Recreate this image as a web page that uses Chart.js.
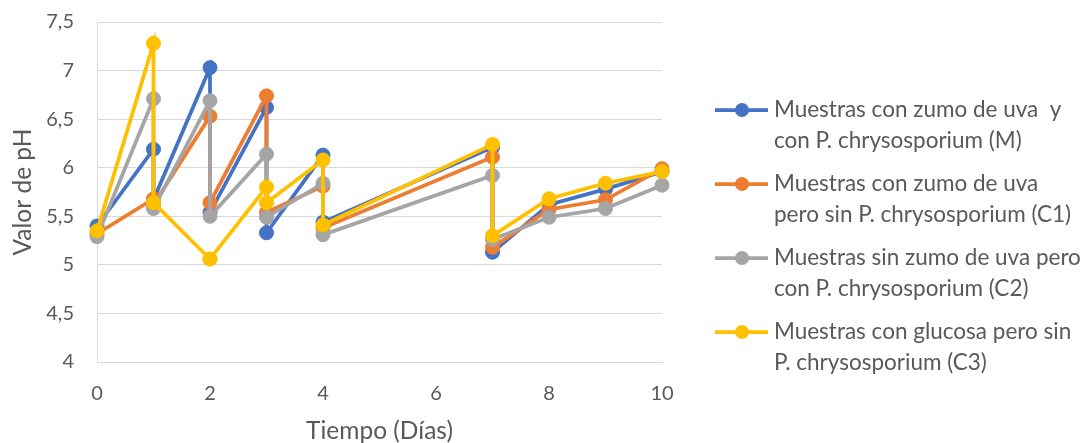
<!DOCTYPE html>
<html>
<head>
<meta charset="utf-8">
<script src="https://cdn.jsdelivr.net/npm/chart.js@4.4.1/dist/chart.umd.min.js"></script>
<style>
  html, body { margin: 0; padding: 0; background: #ffffff; }
  #wrap { width: 1081px; height: 443px; position: relative; }
</style>
</head>
<body>
<div id="wrap"><canvas id="ph" width="1081" height="443"></canvas></div>
<script>
// Sampling days (each adjustment day has a reading before and after correction)
const days = [0, 1, 1, 2, 2, 3, 3, 4, 4, 7, 7, 8, 9, 10];

// pH readings per sample group
const phM  = [5.40, 6.19, 5.67, 7.03, 5.54, 6.62, 5.33, 6.13, 5.44, 6.21, 5.13, 5.62, 5.78, 5.96];
const phC1 = [5.32, 5.68, 5.62, 6.53, 5.64, 6.74, 5.54, 5.81, 5.38, 6.11, 5.18, 5.57, 5.67, 5.99];
const phC2 = [5.29, 6.71, 5.58, 6.69, 5.50, 6.14, 5.49, 5.84, 5.31, 5.92, 5.26, 5.49, 5.58, 5.82];
const phC3 = [5.35, 7.28, 5.64, 5.06, 5.06, 5.80, 5.64, 6.08, 5.41, 6.24, 5.30, 5.68, 5.84, 5.96];

// Legend labels (two lines each)
const seriesNames = [
  ["Muestras con zumo de uva  y", "con P. chrysosporium (M)"],
  ["Muestras con zumo de uva", "pero sin P. chrysosporium (C1)"],
  ["Muestras sin zumo de uva pero", "con P. chrysosporium (C2)"],
  ["Muestras con glucosa pero sin", "P. chrysosporium (C3)"]
];
const seriesColors = ["#4472C4", "#ED7D31", "#A5A5A5", "#FFC000"];
const seriesValues = [phM, phC1, phC2, phC3];

const xTitle = "Tiempo (Días)";
const yTitle = "Valor de pH";

const FONT = "Lato, 'Open Sans', sans-serif";
const TEXT = "#595959";
const GRID = "#D9D9D9";

const datasets = seriesValues.map((vals, i) => ({
  label: seriesNames[i].join(" "),
  data: days.map((d, k) => ({ x: d, y: vals[k] })),
  showLine: true,
  borderColor: seriesColors[i],
  backgroundColor: seriesColors[i],
  pointBackgroundColor: seriesColors[i],
  pointBorderColor: seriesColors[i],
  borderWidth: 3.75,
  pointRadius: 7,
  pointBorderWidth: 1,
  tension: 0,
  clip: false,
  order: seriesValues.length - i
}));

// Legend drawn at the right of the plot, with wrapped two-line labels
const sideLegend = {
  id: 'sideLegend',
  afterDraw(chart) {
    const ctx = chart.ctx;
    const x0 = chart.chartArea.right + 53;
    const top = 110, gap = 74, lineGap = 31;
    ctx.save();
    seriesNames.forEach((lines, i) => {
      const y = top + i * gap;
      const c = seriesColors[i];
      ctx.strokeStyle = c;
      ctx.lineWidth = 3.75;
      ctx.beginPath();
      ctx.moveTo(x0, y);
      ctx.lineTo(x0 + 53, y);
      ctx.stroke();
      ctx.fillStyle = c;
      ctx.beginPath();
      ctx.arc(x0 + 27, y, 7, 0, Math.PI * 2);
      ctx.fill();
      ctx.fillStyle = TEXT;
      ctx.font = "22.5px " + FONT;
      ctx.textAlign = "left";
      ctx.textBaseline = "middle";
      lines.forEach((t, j) => ctx.fillText(t, x0 + 59, y + j * lineGap));
    });
    ctx.restore();
  }
};

new Chart(document.getElementById('ph'), {
  type: 'scatter',
  data: { datasets },
  plugins: [sideLegend],
  options: {
    responsive: false,
    animation: false,
    layout: { padding: { top: 22, right: 419, left: 0, bottom: 0 } },
    plugins: {
      legend: { display: false },
      tooltip: { enabled: false }
    },
    scales: {
      x: {
        type: 'linear',
        min: 0, max: 10,
        ticks: { stepSize: 2, color: TEXT, font: { family: FONT, size: 20 }, padding: 20 },
        grid: { display: false, drawTicks: false },
        border: { display: true, color: GRID, width: 1 },
        title: { display: true, text: xTitle, color: TEXT, font: { family: FONT, size: 24.5, lineHeight: 1 }, padding: { top: 0, bottom: 0 } },
        afterFit(scale) { scale.height = 81; }
      },
      y: {
        min: 4, max: 7.5,
        ticks: {
          stepSize: 0.5, color: TEXT, font: { family: FONT, size: 20 }, padding: 23,
          callback: v => String(v).replace('.', ',')
        },
        grid: { color: GRID, lineWidth: 1, drawTicks: false },
        border: { display: true, color: GRID, width: 1 },
        title: { display: true, text: yTitle, color: TEXT, font: { family: FONT, size: 24.5, lineHeight: 1 }, padding: { top: 11, bottom: 0 } },
        afterFit(scale) {
          scale.width = 97;
          // only half a label height of overhang above/below the plot
          scale.paddingTop = 12;
          scale.paddingBottom = 12;
        }
      }
    }
  }
});
</script>
</body>
</html>
